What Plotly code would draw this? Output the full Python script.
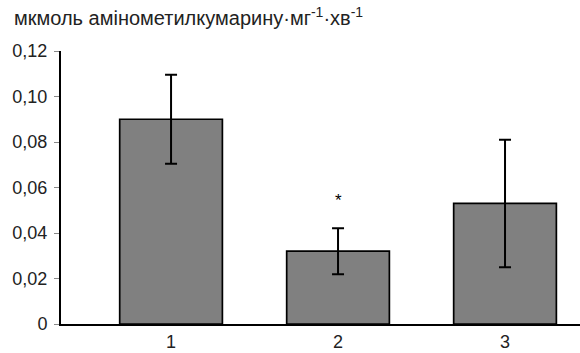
import plotly.graph_objects as go

categories = ["1", "2", "3"]
values = [0.09, 0.032, 0.053]
errors = [0.0196, 0.0101, 0.028]
y_tickvals = [0, 0.02, 0.04, 0.06, 0.08, 0.10, 0.12]
y_ticktext = ["0", "0,02", "0,04", "0,06", "0,08", "0,10", "0,12"]
y_title = "мкмоль амінометилкумарину·мг<sup>-1</sup>·хв<sup>-1</sup>"
sig_category = "2"
sig_y = 0.0542

fig = go.Figure()
fig.add_trace(go.Bar(
    x=categories, y=values, width=0.615,
    marker=dict(color="#808080", line=dict(color="black", width=1.7)),
    error_y=dict(type="data", array=errors, visible=True, color="black", thickness=2, width=6),
))
fig.add_annotation(x=categories.index(sig_category), y=sig_y, text="*", showarrow=False,
                   font=dict(size=17, color="black", family="Liberation Sans"))
fig.add_annotation(xref="paper", yref="paper", x=-0.095, y=1.0, yshift=20, xanchor="left", yanchor="bottom",
                   text=y_title, showarrow=False,
                   font=dict(size=20, color="#222", family="Liberation Sans"))

fig.update_layout(
    width=580, height=353,
    margin=dict(l=61, r=0, t=51, b=29),
    paper_bgcolor="white", plot_bgcolor="white",
    showlegend=False,
    font=dict(family="Liberation Sans", size=18, color="#222"),
    xaxis=dict(range=[-0.659, 2.449], showline=True, linecolor="black", linewidth=2,
               ticks="", showgrid=False, tickfont=dict(size=18), zeroline=False),
    yaxis=dict(range=[0, 0.12], tickvals=y_tickvals, ticktext=y_ticktext,
               showline=True, linecolor="black", linewidth=2, ticks="outside", ticklen=5,
               tickcolor="#888", tickwidth=1, showgrid=False, zeroline=False,
               tickfont=dict(size=18), ticklabelstandoff=3),
)
fig.write_html("out.html", config={"displayModeBar": False},
               post_script="document.body.style.margin='0';document.body.style.overflow='hidden';")
